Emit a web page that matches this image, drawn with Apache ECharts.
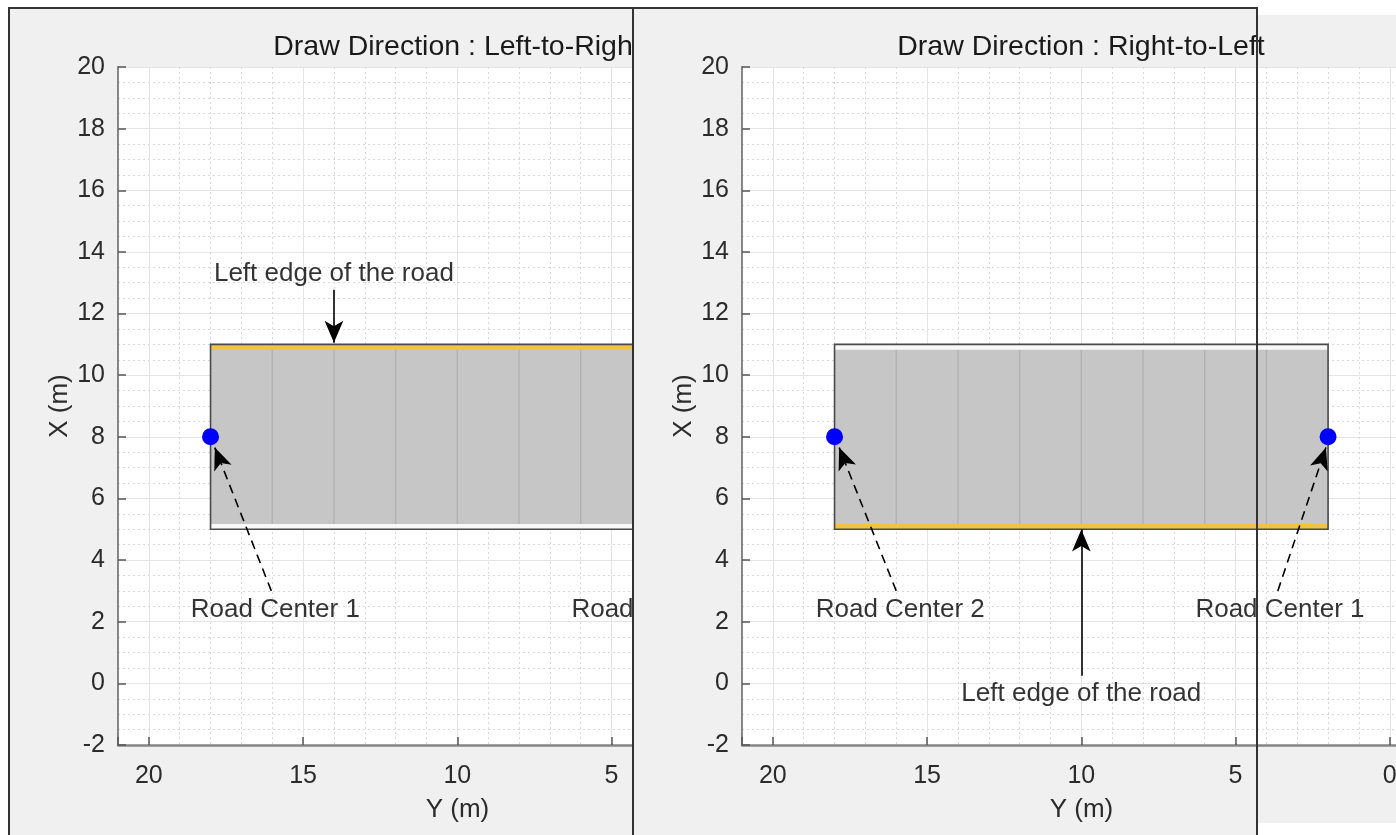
<!DOCTYPE html>
<html>
<head>
<meta charset="utf-8">
<script src="https://cdn.jsdelivr.net/npm/echarts@6/dist/echarts.min.js"></script>
<style>
html,body{margin:0;padding:0;background:#ffffff;overflow:hidden;width:1396px;height:835px;}
#chart{width:1800px;height:835px;}
</style>
</head>
<body>
<div id="chart"></div>
<script>
// ---------------- data ----------------
const panelTitles = ['Draw Direction : Left-to-Right', 'Draw Direction : Right-to-Left'];
const xAxisName = 'Y (m)';
const yAxisName = 'X (m)';
// road centers, [Y, X] (horizontal axis is Y)
const roadCentersLR = [[18, 8], [2, 8]];
const roadCentersRL = [[2, 8], [18, 8]];
const roadWidth = 6;
const laneLineY = [16, 14, 12, 10, 8, 6, 4];
// text annotations: [Y, X, text]
const textsLR = [[14, 13.3, 'Left edge of the road'], [15.9, 2.4, 'Road Center 1'], [3.56, 2.4, 'Road Center 2']];
const textsRL = [[15.87, 2.4, 'Road Center 2'], [3.56, 2.4, 'Road Center 1'], [10, -0.35, 'Left edge of the road']];
// arrows: [fromY, fromX, toY, toX, dashed(1)/solid(0)]
const arrowsLR = [[14, 12.77, 14, 11.05, 0], [16.03, 3.0, 17.86, 7.65, 1], [3.63, 3.0, 2.07, 7.65, 1]];
const arrowsRL = [[16.0, 3.0, 17.85, 7.65, 1], [3.63, 3.0, 2.07, 7.65, 1], [10, 0.25, 10, 4.99, 0]];
const xTickInterval = 5, xMin = -5, xMax = 21;
const yTickInterval = 2, yMin = -2, yMax = 20;

// ---------------- styles ----------------
const FONT = 'Liberation Sans, Arial, Helvetica, sans-serif';
const ROAD_FILL = '#c6c6c6', LANE = '#b0b0b0', YELLOW = '#efc43e', WHITE = '#f8f8f8', OUTLINE = '#4a4a4a';
const BAND_INSET = 0.09;

function roadRender(laneYs) {
  return function (params, api) {
    const y1 = api.value(0), x1 = api.value(1), y2 = api.value(2), x2 = api.value(3), w = api.value(4);
    const len = Math.hypot(x2 - x1, y2 - y1);
    const nX = -(y2 - y1) / len, nY = (x2 - x1) / len;
    const h = w / 2;
    const P = (yy, xx) => api.coord([yy, xx]);
    const L1 = P(y1 + nY * h, x1 + nX * h), L2 = P(y2 + nY * h, x2 + nX * h);
    const R1 = P(y1 - nY * h, x1 - nX * h), R2 = P(y2 - nY * h, x2 - nX * h);
    const hi = h - BAND_INSET;
    const Li1 = P(y1 + nY * hi, x1 + nX * hi), Li2 = P(y2 + nY * hi, x2 + nX * hi);
    const Ri1 = P(y1 - nY * hi, x1 - nX * hi), Ri2 = P(y2 - nY * hi, x2 - nX * hi);
    const xc = (x1 + x2) / 2;
    const children = [];
    children.push({type: 'polygon', z2: 0, shape: {points: [L1, L2, R2, R1]}, style: {fill: ROAD_FILL, stroke: null}});
    laneYs.forEach(function (ly) {
      const a = P(ly, xc - h), b = P(ly, xc + h);
      children.push({type: 'line', z2: 1, shape: {x1: a[0], y1: a[1], x2: b[0], y2: b[1]}, style: {stroke: LANE, lineWidth: 1.3}});
    });
    children.push({type: 'line', z2: 2, shape: {x1: Ri1[0], y1: Ri1[1], x2: Ri2[0], y2: Ri2[1]}, style: {stroke: WHITE, lineWidth: 5}});
    children.push({type: 'line', z2: 2, shape: {x1: Li1[0], y1: Li1[1], x2: Li2[0], y2: Li2[1]}, style: {stroke: YELLOW, lineWidth: 5}});
    children.push({type: 'polygon', z2: 3, shape: {points: [L1, L2, R2, R1]}, style: {fill: null, stroke: OUTLINE, lineWidth: 1.6}});
    return {type: 'group', children: children};
  };
}

function makeXAxis(gi, z) {
  return {
    type: 'value', gridIndex: gi, inverse: true, min: xMin, max: xMax, interval: xTickInterval, z: z,
    axisLine: {show: true, onZero: false, lineStyle: {color: '#858585', width: 2.5}},
    axisTick: {show: true, inside: true, length: 8, lineStyle: {color: '#555', width: 1.5}},
    axisLabel: {color: '#2b2b2b', fontSize: 25, fontFamily: FONT, margin: 19,
      formatter: function (v) { return (v % xTickInterval === 0) ? String(v) : ''; }},
    splitLine: {show: true, lineStyle: {color: '#e4e4e4', width: 1}},
    minorTick: {show: false, splitNumber: 5},
    minorSplitLine: {show: true, lineStyle: {color: '#d8d8d8', width: 1, type: [2, 3]}},
    name: xAxisName, nameLocation: 'middle', nameGap: 52,
    nameTextStyle: {color: '#2b2b2b', fontSize: 26, fontFamily: FONT, padding: [0, 123, 0, 0]}
  };
}
function makeYAxis(gi, z) {
  return {
    type: 'value', gridIndex: gi, min: yMin, max: yMax, interval: yTickInterval, z: z,
    axisLine: {show: true, onZero: false, lineStyle: {color: '#858585', width: 2}},
    axisTick: {show: true, inside: true, length: 8, lineStyle: {color: '#555', width: 1.5}},
    axisLabel: {color: '#2b2b2b', fontSize: 25, fontFamily: FONT, margin: 13},
    splitLine: {show: true, lineStyle: {color: '#e4e4e4', width: 1}},
    minorTick: {show: false, splitNumber: 4},
    minorSplitLine: {show: true, lineStyle: {color: '#d8d8d8', width: 1, type: [2, 3]}},
    name: yAxisName, nameLocation: 'middle', nameGap: 38,
    nameTextStyle: {color: '#2b2b2b', fontSize: 26, fontFamily: FONT}
  };
}

function panelSeries(gi, centers, texts, arrows, zBase) {
  const c1 = centers[0], c2 = centers[1];
  return [
    {type: 'custom', xAxisIndex: gi, yAxisIndex: gi, z: zBase, silent: true, clip: true,
      renderItem: roadRender(laneLineY),
      data: [[c1[0], c1[1], c2[0], c2[1], roadWidth]]},
    {type: 'lines', coordinateSystem: 'cartesian2d', xAxisIndex: gi, yAxisIndex: gi, z: zBase + 1, silent: true,
      symbol: ['none', 'arrow'], symbolSize: [0, [14, 22]],
      lineStyle: {color: '#000', width: 1.6, opacity: 1, curveness: 0},
      data: arrows.map(function (a) {
        return {coords: [[a[0], a[1]], [a[2], a[3]]], lineStyle: {type: a[4] ? [9, 6] : 'solid'}};
      })},
    {type: 'scatter', xAxisIndex: gi, yAxisIndex: gi, z: zBase + 2, silent: true,
      symbol: 'circle', symbolSize: 17, itemStyle: {color: '#0000ff', opacity: 1},
      data: centers.map(function (c) { return [c[0], c[1]]; })},
    {type: 'scatter', xAxisIndex: gi, yAxisIndex: gi, z: zBase + 3, silent: true,
      symbolSize: 0,
      label: {show: true, position: 'inside', formatter: function (p) { return p.data[2]; },
        color: '#000', fontSize: 26, fontFamily: FONT, align: 'center', verticalAlign: 'middle',
        textBorderWidth: 0},
      data: texts.map(function (t) { return [t[0], t[1], t[2]]; })}
  ];
}

const chart = echarts.init(document.getElementById('chart'), null, {renderer: 'canvas'});
const option = {
  animation: false,
  backgroundColor: '#ffffff',
  title: [
    {text: panelTitles[0], left: 457, top: 33, textAlign: 'center', padding: 0, z: 6,
      textStyle: {color: '#1a1a1a', fontSize: 28.5, fontWeight: 'normal', fontFamily: FONT}},
    {text: panelTitles[1], left: 1081, top: 33, textAlign: 'center', padding: 0, z: 16,
      textStyle: {color: '#1a1a1a', fontSize: 28.5, fontWeight: 'normal', fontFamily: FONT}}
  ],
  grid: [
    {left: 118, top: 67, width: 802, height: 678, show: true, backgroundColor: '#ffffff', borderWidth: 0, z: 1},
    {left: 742, top: 67, width: 802, height: 678, show: true, backgroundColor: '#ffffff', borderWidth: 0, z: 11}
  ],
  xAxis: [makeXAxis(0, 2), makeXAxis(1, 12)],
  yAxis: [makeYAxis(0, 2), makeYAxis(1, 12)],
  graphic: {elements: [
    {type: 'rect', z: -5, silent: true, shape: {x: 9, y: 7, width: 624, height: 830}, style: {fill: '#f0f0f0'}},
    {type: 'rect', z: 10, silent: true, shape: {x: 633, y: 15, width: 1200, height: 808}, style: {fill: '#f0f0f0'}},
    {type: 'rect', z: 10, silent: true, shape: {x: 633, y: 8, width: 624, height: 830}, style: {fill: '#f0f0f0'}},
    {type: 'polyline', z: 30, silent: true, shape: {points: [[9, 840], [9, 8], [633, 8]]}, style: {stroke: '#333', lineWidth: 2, fill: null}},
    {type: 'polyline', z: 30, silent: true, shape: {points: [[633, 8], [1257, 8], [1257, 840]]}, style: {stroke: '#333', lineWidth: 2, fill: null}},
    {type: 'line', z: 30, silent: true, shape: {x1: 633, y1: 8, x2: 633, y2: 840}, style: {stroke: '#333', lineWidth: 2}}
  ]},
  series: [].concat(
    panelSeries(0, roadCentersLR, textsLR, arrowsLR, 3),
    panelSeries(1, roadCentersRL, textsRL, arrowsRL, 13)
  )
};
chart.setOption(option);
</script>
</body>
</html>
